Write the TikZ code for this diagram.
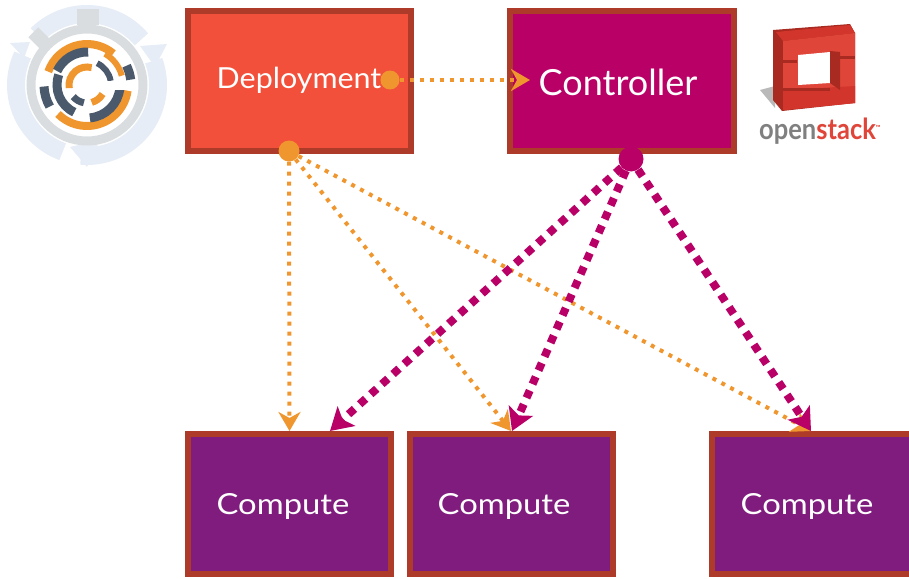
\documentclass[tikz,border=0pt]{standalone}
\usepackage{fontspec}
\setmainfont{Lato}
\usetikzlibrary{arrows.meta}
\definecolor{boxedge}{HTML}{AE3A2A}
\definecolor{deployfill}{HTML}{F2503A}
\definecolor{ctrlfill}{HTML}{B80067}
\definecolor{computefill}{HTML}{7F1C7D}
\definecolor{dotorange}{HTML}{F0962E}
\definecolor{ringblue}{HTML}{E6EDF6}
\definecolor{ringgrey}{HTML}{DADDDF}
\definecolor{ringdark}{HTML}{4A5A6C}
\definecolor{cubered}{HTML}{E0453A}
\definecolor{cubemid}{HTML}{D2352B}
\definecolor{cubedark}{HTML}{A82A20}
\tikzset{
  box/.style={draw=boxedge, line width=6, inner sep=0, minimum width=#1, minimum height=140},
  boxtext/.style={text=white, inner sep=0, font=\fontsize{29}{29}\selectfont},
  orangeline/.style={color=dotorange, line width=4, dash pattern=on 4 off 6, -{Stealth[length=19,width=22,inset=6]}},
  purpleline/.style={color=ctrlfill, line width=8, dash pattern=on 8 off 7, -{Stealth[length=22,width=26,inset=5]}},
  startdot/.style={circle, fill=#1, inner sep=0, minimum size=21},
  ringpart/.style 2 args={line width=#2, color=#1},
}
\newcommand{\ringarc}[5]{\draw[ringpart={#1}{#5}] (87,85) ++(#2:#4) arc (#2:#3:#4);}
\begin{document}
\begin{tikzpicture}[x=1pt, y=-1pt]
            \useasboundingbox (0,0) rectangle (909,578);

            % left logo
            \draw[ringblue, line width=18] (87,85) ++(-20:71) arc (-20:95:71);
            \draw[ringblue, line width=18] (87,85) ++(110:71) arc (110:205:71);
            \draw[ringblue, line width=18] (87,85) ++(225:71) arc (225:320:71);
            \fill[ringblue] (167,44) -- (140,46) -- (155,67) -- cycle;
            \fill[ringblue] (70,147) -- (87,167) -- (100,140) -- cycle;
            \fill[ringblue] (10,43) -- (30,42) -- (24,58) -- cycle;
            \draw[ringgrey, line width=9] (87,85) circle (56);
            \fill[ringgrey] (77,9) rectangle (99,25);
            \fill[ringgrey, rotate around={-45:(39,38)}] (31,31) rectangle (47,45);
            \ringarc{dotorange}{8}{135}{41}{8}
            \ringarc{dotorange}{199}{310}{41}{8}
            \ringarc{dotorange}{300}{345}{36}{6}
            \ringarc{ringdark}{150}{178}{43}{9}
            \ringarc{ringdark}{334}{353}{44}{9}
            \ringarc{ringdark}{5}{85}{33}{9}
            \ringarc{ringdark}{115}{200}{30}{9}
            \ringarc{ringdark}{205}{272}{33}{9}
            \ringarc{ringdark}{295}{350}{24}{6}
            \ringarc{dotorange}{170}{285}{18}{7}
            \ringarc{dotorange}{30}{75}{18}{7}
            \ringarc{ringdark}{100}{140}{18}{7}
            \fill[white] (87,81) rectangle (136,90);

            % right logo
            \fill[gray!55] (760,90) -- (775,86) -- (775,108) -- cycle;
            \fill[cubedark] (773,30) -- (850,24) -- (855,33) -- (855,103) -- (782,111) -- (773,100) -- cycle;
            \fill[cubemid] (776,32) -- (850,25) -- (855,33) -- (783,41) -- cycle;
            \fill[cubered] (783,41) -- (855,33) -- (855,103) -- (783,110) -- cycle;
            \fill[cubemid] (783,90) -- (855,86) -- (855,103) -- (783,110) -- cycle;
            \fill[white] (798,55) -- (830,52) -- (830,83) -- (798,85) -- cycle;
            \fill[cubedark] (830,51) -- (840,52) -- (840,90) -- (830,83) -- cycle;
            \fill[cubedark] (783,60) rectangle (797,63);
            \fill[cubedark] (783,88) rectangle (830,91);
            \fill[cubedark] (840,56) rectangle (855,59);
            \node[inner sep=0, anchor=west, xscale=0.88, font=\fontsize{29}{29}\selectfont\bfseries] (ostext) at (759,131) {\textcolor{gray}{open}\textcolor{cubered}{stack\raisebox{9pt}{\fontsize{7}{7}\selectfont ™}}};

            % boxes
            \node[box=223, fill=deployfill] (dep) at (299.5,81) {};
            \node[box=224, fill=ctrlfill] (ctrl) at (622,81) {};
            \node[box=203, fill=computefill] (compa) at (289.5,504) {};
            \node[box=203, fill=computefill] (compb) at (511,504) {};
            \node[box=203, fill=computefill] (compc) at (813.5,504) {};

            \node[boxtext, xscale=1.05] (deptext) at (299,80) {Deployment};
            \node[boxtext, font=\fontsize{36}{36}\selectfont] (ctrltext) at (618,82) {Controller};
            \node[boxtext, xscale=1.13] (compatext) at (283,506) {Compute};
            \node[boxtext, xscale=1.13] (compbtext) at (504,506) {Compute};
            \node[boxtext, xscale=1.13] (compctext) at (807,506) {Compute};

            % connectors
            \node[startdot=dotorange, minimum size=19] (depright) at (390,80) {};
            \node[startdot=dotorange] (depbottom) at (289,151) {};
            \node[startdot=ctrlfill, minimum size=25] (ctrlbottom) at (631,159) {};
            \coordinate (ctrlin) at (530,80);
            \coordinate (compaleft) at (330,431);
            \coordinate (compbleft) at (512,431);
            \coordinate (compcleft) at (811,431);

            \draw[orangeline] (depright) -- (ctrlin);
            \draw[orangeline] (depbottom) -- (compa.north);
            \draw[orangeline] (depbottom) -- (compb.north);
            \draw[orangeline] (depbottom) -- (compcleft);
            \draw[purpleline] (ctrlbottom) -- (compaleft);
            \draw[purpleline] (ctrlbottom) -- (compbleft);
            \draw[purpleline] (ctrlbottom) -- (compcleft);
        \end{tikzpicture}
\end{document}
